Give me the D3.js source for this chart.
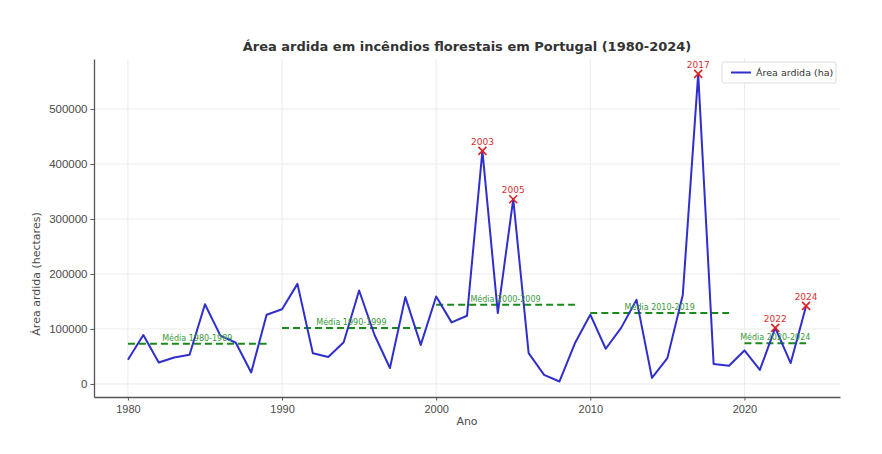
<!DOCTYPE html>
<html>
<head>
<meta charset="utf-8">
<script src="https://cdn.jsdelivr.net/npm/d3@7"></script>
<style>
  body { margin: 0; background: #fff; }
  svg { font-family: "DejaVu Sans", sans-serif; }
</style>
</head>
<body>
<div id="chart"></div>
<script>
const years = d3.range(1980, 2025)
const area = [
  44000, 89000, 39000, 48000, 53000, 145000, 88000, 75000, 21000, 126000,
  136000, 182000, 56000, 49000, 76000, 170000, 89000, 29000, 158000, 71000,
  159000, 112000, 124000, 424000, 129000, 336000, 56000, 16500, 4500, 74000,
  126000, 64000, 102000, 153000, 11000, 47000, 162000, 564000, 36500, 33000,
  61000, 25500, 102000, 38000, 142000
]
const meanLabels = ["Média 1980-1989", "Média 1990-1999", "Média 2000-2009", "Média 2010-2019", "Média 2020-2024"]
const meanStart = [1980, 1990, 2000, 2010, 2020]
const meanEnd = [1989, 1999, 2009, 2019, 2024]
const meanValue = [73000, 102000, 144000, 129000, 74000]
const peakYears = [2003, 2005, 2017, 2022, 2024]
const yTicks = [0, 100000, 200000, 300000, 400000, 500000]
const xTicks = [1980, 1990, 2000, 2010, 2020]

const width = 882
const height = 454
const margin = {top: 59, right: 42, bottom: 57, left: 94}

const svg = d3.select("#chart").append("svg")
  .attr("width", width)
  .attr("height", height)

const x = d3.scaleLinear()
  .domain([1977.8, 2026.2])
  .range([margin.left, width - margin.right])

const y = d3.scaleLinear()
  .domain([-23700, 591000])
  .range([height - margin.bottom, margin.top])

// grid
svg.append("g")
  .selectAll("line")
  .data(xTicks)
  .enter().append("line")
  .attr("x1", d => x(d)).attr("x2", d => x(d))
  .attr("y1", margin.top).attr("y2", height - margin.bottom)
  .attr("stroke", "#ebebeb").attr("stroke-width", 1)

svg.append("g")
  .selectAll("line")
  .data(yTicks)
  .enter().append("line")
  .attr("x1", margin.left).attr("x2", width - margin.right)
  .attr("y1", d => y(d)).attr("y2", d => y(d))
  .attr("stroke", "#ebebeb").attr("stroke-width", 1)

// axes
const xAxis = svg.append("g")
  .attr("transform", "translate(0," + (height - margin.bottom) + ")")
  .call(d3.axisBottom(x).tickValues(xTicks).tickFormat(d3.format("d")).tickSize(3.5).tickSizeOuter(0))
xAxis.select(".domain").attr("stroke", "#555").attr("stroke-width", 1.3)
xAxis.selectAll(".tick line").attr("stroke", "#555")
xAxis.selectAll("text").attr("font-size", 11).attr("fill", "#4a4a4a").attr("dy", "0.9em")

const yAxis = svg.append("g")
  .attr("transform", "translate(" + margin.left + ",0)")
  .call(d3.axisLeft(y).tickValues(yTicks).tickFormat(d3.format("d")).tickSize(3.5).tickSizeOuter(0))
yAxis.select(".domain").attr("stroke", "#555").attr("stroke-width", 1.3)
yAxis.selectAll(".tick line").attr("stroke", "#555")
yAxis.selectAll("text").attr("font-size", 11.5).attr("fill", "#4a4a4a")

// labels
svg.append("text")
  .attr("x", (margin.left + width - margin.right) / 2)
  .attr("y", 51)
  .attr("text-anchor", "middle")
  .attr("font-size", 13)
  .attr("font-weight", "bold")
  .attr("fill", "#333")
  .text("Área ardida em incêndios florestais em Portugal (1980-2024)")

svg.append("text")
  .attr("x", (margin.left + width - margin.right) / 2)
  .attr("y", 425)
  .attr("text-anchor", "middle")
  .attr("font-size", 11)
  .attr("fill", "#4a4a4a")
  .text("Ano")

svg.append("text")
  .attr("transform", "translate(40," + y(200000) + ") rotate(-90)")
  .attr("text-anchor", "middle")
  .attr("font-size", 11)
  .attr("fill", "#4a4a4a")
  .text("Área ardida (hectares)")

// means
meanValue.forEach(function(v, i) {
  svg.append("line")
    .attr("x1", x(meanStart[i])).attr("x2", x(meanEnd[i]))
    .attr("y1", y(v)).attr("y2", y(v))
    .attr("stroke", "#1a8a1a")
    .attr("stroke-width", 2)
    .attr("stroke-dasharray", "7,4")
})

// line
svg.append("path")
  .datum(d3.zip(years, area))
  .attr("fill", "none")
  .attr("stroke", "#2f2fcc")
  .attr("stroke-width", 2)
  .attr("stroke-linejoin", "round")
  .attr("d", d3.line()
    .x(d => x(d[0]))
    .y(d => y(d[1])))

// mean labels
meanValue.forEach(function(v, i) {
  svg.append("text")
    .attr("x", x((meanStart[i] + meanEnd[i]) / 2))
    .attr("y", y(v) - 3)
    .attr("text-anchor", "middle")
    .attr("font-size", 8)
    .attr("fill", "#3a9a3a")
    .text(meanLabels[i])
})

// peaks
const peaks = peakYears.map(yr => [yr, area[years.indexOf(yr)]])
const marks = svg.append("g")
  .selectAll("g")
  .data(peaks)
  .enter().append("g")
  .attr("transform", d => "translate(" + x(d[0]) + "," + y(d[1]) + ")")
marks.append("path")
  .attr("d", "M-4,-4L4,4M-4,4L4,-4")
  .attr("stroke", "#e02020")
  .attr("stroke-width", 1.6)
marks.append("text")
  .attr("y", -6)
  .attr("text-anchor", "middle")
  .attr("font-size", 9)
  .attr("fill", "#d83030")
  .text(d => d[0])

// legend
const lg = svg.append("g").attr("transform", "translate(722,62)")
lg.append("rect")
  .attr("width", 114).attr("height", 21)
  .attr("fill", "#fff").attr("stroke", "#ddd").attr("rx", 2)
lg.append("line")
  .attr("x1", 9).attr("x2", 29).attr("y1", 10.5).attr("y2", 10.5)
  .attr("stroke", "#2f2fcc").attr("stroke-width", 2)
lg.append("text")
  .attr("x", 34).attr("y", 14)
  .attr("font-size", 9.5)
  .attr("fill", "#333")
  .text("Área ardida (ha)")
</script>
</body>
</html>
